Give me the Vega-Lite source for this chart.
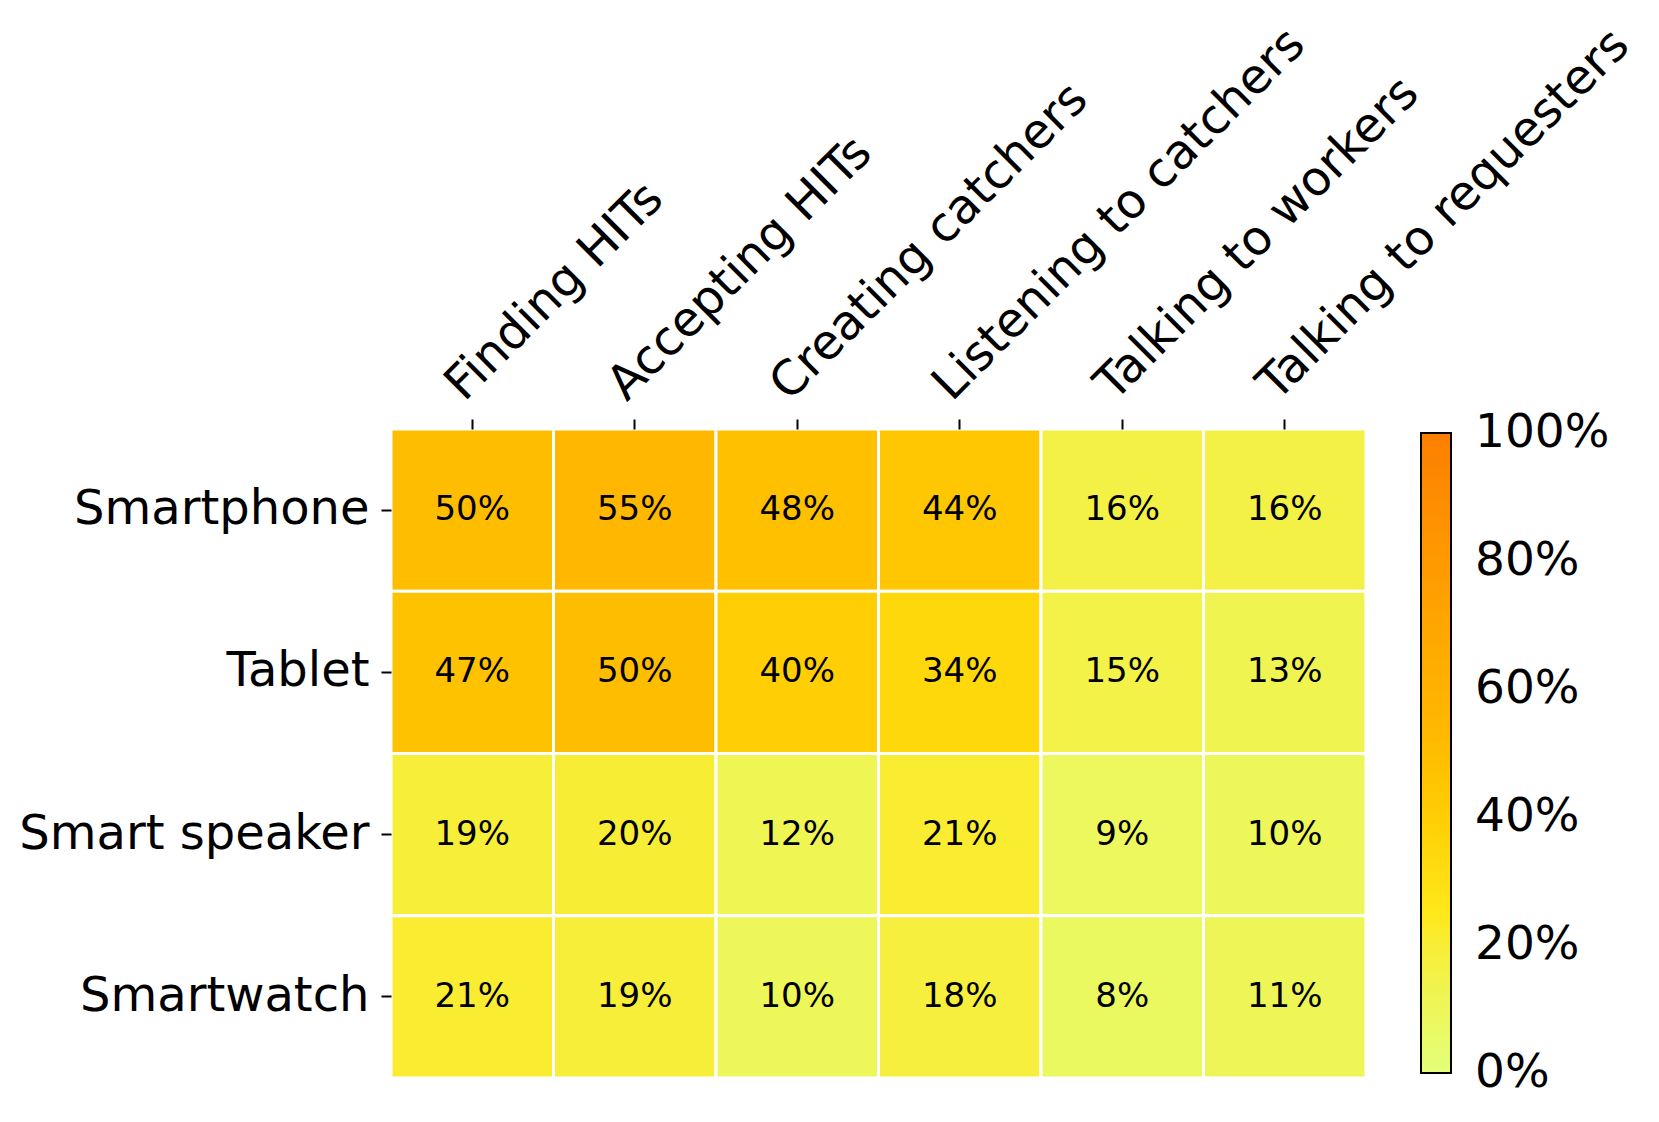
{
  "$schema": "https://vega.github.io/schema/vega-lite/v6.json",
  "autosize": "none",
  "padding": {"left": 391, "top": 429, "right": 293, "bottom": 44},
  "width": 975,
  "height": 649,
  "background": "white",
  "config": {
    "view": {"stroke": null},
    "font": "DejaVu Sans",
    "axis": {"labelFont": "DejaVu Sans", "labelColor": "black", "tickColor": "black", "tickWidth": 2, "tickSize": 10, "domain": false, "grid": false, "title": null}
  },
  "data": {
    "values": [
      {"device": "Smartphone", "task": "Finding HITs", "share": 0.50},
      {"device": "Smartphone", "task": "Accepting HITs", "share": 0.55},
      {"device": "Smartphone", "task": "Creating catchers", "share": 0.48},
      {"device": "Smartphone", "task": "Listening to catchers", "share": 0.44},
      {"device": "Smartphone", "task": "Talking to workers", "share": 0.16},
      {"device": "Smartphone", "task": "Talking to requesters", "share": 0.16},
      {"device": "Tablet", "task": "Finding HITs", "share": 0.47},
      {"device": "Tablet", "task": "Accepting HITs", "share": 0.50},
      {"device": "Tablet", "task": "Creating catchers", "share": 0.40},
      {"device": "Tablet", "task": "Listening to catchers", "share": 0.34},
      {"device": "Tablet", "task": "Talking to workers", "share": 0.15},
      {"device": "Tablet", "task": "Talking to requesters", "share": 0.13},
      {"device": "Smart speaker", "task": "Finding HITs", "share": 0.19},
      {"device": "Smart speaker", "task": "Accepting HITs", "share": 0.20},
      {"device": "Smart speaker", "task": "Creating catchers", "share": 0.12},
      {"device": "Smart speaker", "task": "Listening to catchers", "share": 0.21},
      {"device": "Smart speaker", "task": "Talking to workers", "share": 0.09},
      {"device": "Smart speaker", "task": "Talking to requesters", "share": 0.10},
      {"device": "Smartwatch", "task": "Finding HITs", "share": 0.21},
      {"device": "Smartwatch", "task": "Accepting HITs", "share": 0.19},
      {"device": "Smartwatch", "task": "Creating catchers", "share": 0.10},
      {"device": "Smartwatch", "task": "Listening to catchers", "share": 0.18},
      {"device": "Smartwatch", "task": "Talking to workers", "share": 0.08},
      {"device": "Smartwatch", "task": "Talking to requesters", "share": 0.11}
    ]
  },
  "encoding": {
    "x": {
      "field": "task", "type": "nominal",
      "sort": ["Finding HITs", "Accepting HITs", "Creating catchers", "Listening to catchers", "Talking to workers", "Talking to requesters"],
      "scale": {"paddingInner": 0, "paddingOuter": 0},
      "axis": {"orient": "top", "labelAngle": -45, "labelAlign": "left", "labelBaseline": "alphabetic", "labelFontSize": 48, "labelPadding": 17, "labelOffset": -8, "labelLimit": 0}
    },
    "y": {
      "field": "device", "type": "nominal",
      "sort": ["Smartphone", "Tablet", "Smart speaker", "Smartwatch"],
      "scale": {"paddingInner": 0, "paddingOuter": 0},
      "axis": {"labelFontSize": 48, "labelPadding": 12, "labelLimit": 0}
    }
  },
  "layer": [
    {
      "mark": {"type": "rect", "stroke": "white", "strokeWidth": 3},
      "encoding": {
        "color": {
          "field": "share", "type": "quantitative",
          "scale": {"domain": [0, 0.25, 0.5, 0.75, 1], "range": ["#e4ff7a", "#ffe81a", "#ffbd00", "#ffa000", "#fc7f00"]},
          "legend": {
            "orient": "none", "legendX": 1030, "legendY": 4, "title": null,
            "direction": "vertical", "gradientLength": 640, "gradientThickness": 30,
            "gradientStrokeColor": "black", "gradientStrokeWidth": 2,
            "values": [0, 0.2, 0.4, 0.6, 0.8, 1],
            "format": ".0%",
            "labelFont": "DejaVu Sans", "labelFontSize": 47, "labelColor": "black",
            "labelOffset": 24, "labelOverlap": false, "padding": 0,
            "encode": {"labels": {"update": {"baseline": {"value": "middle"}}}}
          }
        }
      }
    },
    {
      "mark": {"type": "text", "fontSize": 34, "color": "black", "font": "DejaVu Sans"},
      "encoding": {"text": {"field": "share", "type": "quantitative", "format": ".0%"}}
    }
  ]
}
